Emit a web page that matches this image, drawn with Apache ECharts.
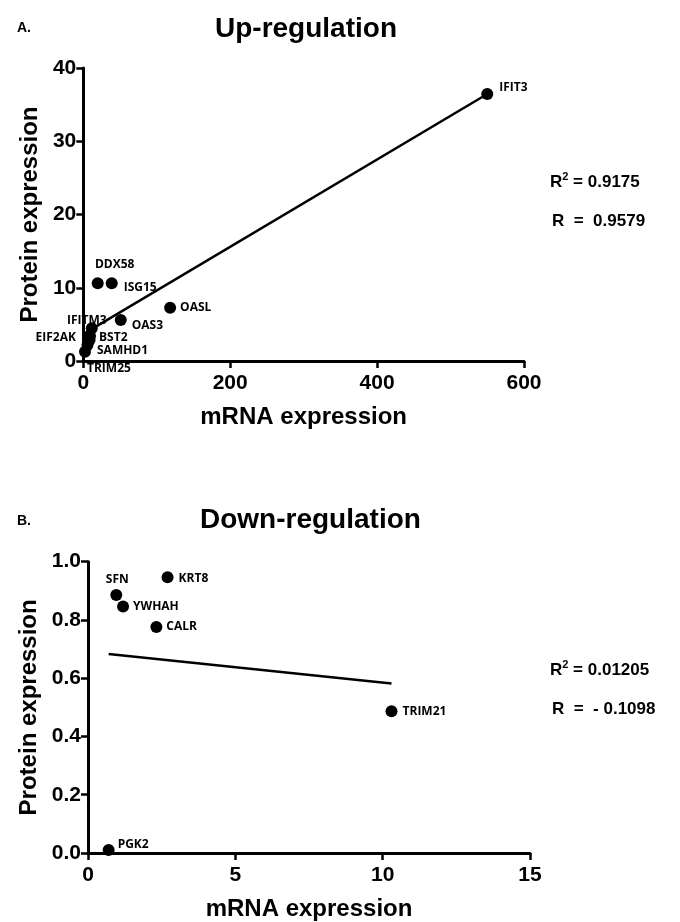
<!DOCTYPE html>
<html>
<head>
<meta charset="utf-8">
<script src="https://cdn.jsdelivr.net/npm/echarts@6/dist/echarts.min.js"></script>
<style>
  html, body { margin: 0; padding: 0; background: #fff; }
  #chart { width: 680px; height: 922px; }
</style>
</head>
<body>
<div id="chart"></div>
<script>
// A. up-regulated genes
var upNames   = ['IFIT3', 'DDX58', 'ISG15', 'OASL', 'OAS3', 'IFITM3', 'EIF2AK', 'BST2', 'SAMHD1', 'TRIM25'];
var upMrna    = [550, 19.6, 38.7, 118.2, 51, 11.5, 9.1, 8.5, 5.7, 2.3];
var upProtein = [36.45, 10.6, 10.6, 7.28, 5.6, 4.46, 3.4, 2.87, 2.2, 1.27];
var upFitX    = [2.3, 550];
var upFitY    = [3.8, 36.45];
var upXTicks  = [0, 600, 200];   // min, max, step
var upYTicks  = [0, 40, 10];
var upStats   = ['0.9175', '0.9579'];

// B. down-regulated genes
var downNames   = ['SFN', 'KRT8', 'YWHAH', 'CALR', 'TRIM21', 'PGK2'];
var downMrna    = [0.96, 2.70, 1.19, 2.32, 10.30, 0.70];
var downProtein = [0.886, 0.947, 0.846, 0.776, 0.487, 0.01];
var downFitX    = [0.70, 10.30];
var downFitY    = [0.683, 0.582];
var downXTicks  = [0, 15, 5];
var downYTicks  = [0, 1, 0.2];
var downStats   = ['0.01205', '- 0.1098'];

// label placement: [align, dx, dy] from dot centre
var labelPlace = {
  IFIT3: ['left', 12, -6], DDX58: ['center', 17, -19], ISG15: ['left', 12, 4],
  OASL: ['left', 10, 0], OAS3: ['left', 11, 6], IFITM3: ['center', -5, -8],
  EIF2AK: ['right', -14, 1], BST2: ['left', 9.5, -2], SAMHD1: ['left', 9.5, 6],
  TRIM25: ['left', 2, 17],
  SFN: ['center', 1, -15], KRT8: ['left', 11, 1], YWHAH: ['left', 10, 0],
  CALR: ['left', 10, 0], TRIM21: ['left', 11, 0], PGK2: ['left', 9, -6]
};

var FONT = 'Liberation Sans, Arial, sans-serif';

function points(names, xs, ys) {
  return names.map(function (n, i) {
    var p = labelPlace[n];
    return {
      value: [xs[i], ys[i]],
      name: n,
      label: { show: true, position: 'inside', align: p[0], verticalAlign: 'middle', offset: [p[1], p[2]] }
    };
  });
}

function xAxis(idx, t, fmt) {
  return {
    type: 'value', gridIndex: idx, min: t[0], max: t[1], interval: t[2],
    name: 'mRNA expression', nameLocation: 'middle', nameGap: 44,
    nameTextStyle: { color: '#000', fontSize: 24, fontWeight: 'bold', fontFamily: FONT },
    axisLine: { show: true, lineStyle: { color: '#000', width: 3 } },
    axisTick: { show: true, length: 7, lineStyle: { color: '#000', width: 2.5 } },
    axisLabel: { color: '#000', fontSize: 21, fontWeight: 'bold', fontFamily: FONT, margin: 12, formatter: fmt },
    splitLine: { show: false }
  };
}

function yAxis(idx, t, fmt) {
  return {
    type: 'value', gridIndex: idx, min: t[0], max: t[1], interval: t[2],
    name: 'Protein expression', nameLocation: 'middle', nameGap: 40,
    nameTextStyle: { color: '#000', fontSize: 24, fontWeight: 'bold', fontFamily: FONT },
    axisLine: { show: true, lineStyle: { color: '#000', width: 3 } },
    axisTick: { show: true, length: 7, lineStyle: { color: '#000', width: 2.5 } },
    axisLabel: { color: '#000', fontSize: 21, fontWeight: 'bold', fontFamily: FONT, margin: 7, formatter: fmt },
    splitLine: { show: false }
  };
}

function statText(x, y, text, sup) {
  return {
    type: 'text', left: x, top: y,
    style: {
      text: sup ? '{b|R}{s|2}{b| = ' + text + '}' : '{b|R  =  ' + text + '}',
      rich: {
        b: { fontSize: 17, fontWeight: 'bold', fontFamily: FONT, fill: '#000', verticalAlign: 'bottom', lineHeight: 20 },
        s: { fontSize: 11, fontWeight: 'bold', fontFamily: FONT, fill: '#000', verticalAlign: 'top', lineHeight: 20 }
      }
    }
  };
}

function heading(x, y, text, size) {
  return {
    type: 'text', left: x, top: y,
    style: { text: text, fontSize: size, fontWeight: 'bold', fontFamily: FONT, fill: '#000' }
  };
}

var scatterStyle = {
  symbol: 'circle', symbolSize: 12,
  itemStyle: { color: '#000', opacity: 1 },
  label: { color: '#000', fontSize: 12, fontWeight: 'bold', fontFamily: 'Open Sans, sans-serif', formatter: '{b}' }
};

var chart = echarts.init(document.getElementById('chart'));
chart.setOption({
  backgroundColor: '#fff',
  animation: false,
  grid: [
    { left: 83.3, top: 68, width: 440.7, height: 293 },
    { left: 88, top: 561.7, width: 442, height: 292.3 }
  ],
  xAxis: [xAxis(0, upXTicks), xAxis(1, downXTicks)],
  yAxis: [yAxis(0, upYTicks), yAxis(1, downYTicks, function (v) { return v.toFixed(1); })],
  graphic: [
    heading(17, 21, 'A.', 14),
    heading(305 - 90, 15, 'Up-regulation', 28),
    heading(17, 514, 'B.', 14),
    heading(305 - 105, 506, 'Down-regulation', 28),
    statText(550, 171, upStats[0], true),
    statText(552, 213, upStats[1], false),
    statText(550, 659, downStats[0], true),
    statText(552, 701, downStats[1], false)
  ],
  series: [
    {
      type: 'line', xAxisIndex: 0, yAxisIndex: 0, symbol: 'none',
      lineStyle: { color: '#000', width: 2.5 },
      data: upFitX.map(function (x, i) { return [x, upFitY[i]]; })
    },
    Object.assign({ type: 'scatter', xAxisIndex: 0, yAxisIndex: 0, data: points(upNames, upMrna, upProtein) }, scatterStyle),
    {
      type: 'line', xAxisIndex: 1, yAxisIndex: 1, symbol: 'none',
      lineStyle: { color: '#000', width: 2.5 },
      data: downFitX.map(function (x, i) { return [x, downFitY[i]]; })
    },
    Object.assign({ type: 'scatter', xAxisIndex: 1, yAxisIndex: 1, data: points(downNames, downMrna, downProtein) }, scatterStyle)
  ]
});
</script>
</body>
</html>
